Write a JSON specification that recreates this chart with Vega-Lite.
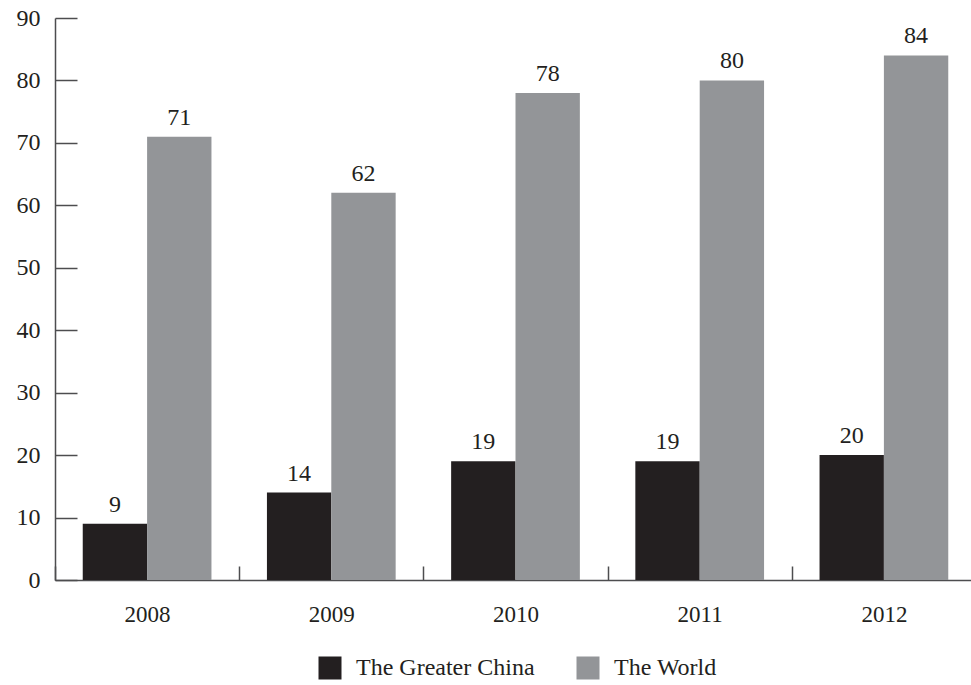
{
  "$schema": "https://vega.github.io/schema/vega-lite/v6.json",
  "autosize": "none",
  "padding": {"left": 55, "top": 18, "right": 0, "bottom": 105},
  "width": 921,
  "height": 562,
  "background": "white",
  "config": {
    "font": "Liberation Serif",
    "view": {"stroke": null},
    "axis": {"grid": false, "domainColor": "#4d4d4f", "domainWidth": 1.5, "tickColor": "#4d4d4f", "tickWidth": 1.5, "labelColor": "#231f20", "labelFont": "Liberation Serif"}
  },
  "data": {
    "values": [
      {"year": "2008", "series": "The Greater China", "value": 9},
      {"year": "2008", "series": "The World", "value": 71},
      {"year": "2009", "series": "The Greater China", "value": 14},
      {"year": "2009", "series": "The World", "value": 62},
      {"year": "2010", "series": "The Greater China", "value": 19},
      {"year": "2010", "series": "The World", "value": 78},
      {"year": "2011", "series": "The Greater China", "value": 19},
      {"year": "2011", "series": "The World", "value": 80},
      {"year": "2012", "series": "The Greater China", "value": 20},
      {"year": "2012", "series": "The World", "value": 84}
    ]
  },
  "encoding": {
    "x": {
      "field": "year",
      "type": "nominal",
      "scale": {"paddingInner": 0, "paddingOuter": 0},
      "axis": {"title": null, "labelAngle": 0, "tickBand": "extent", "tickSize": -14, "labelPadding": 37, "labelFontSize": 23, "labelBaseline": "top"}
    },
    "xOffset": {
      "field": "series",
      "type": "nominal",
      "scale": {"paddingInner": 0, "paddingOuter": 0.431}
    },
    "y": {
      "field": "value",
      "type": "quantitative",
      "scale": {"domain": [0, 90], "nice": false},
      "axis": {"title": null, "values": [0, 10, 20, 30, 40, 50, 60, 70, 80, 90], "tickSize": -22, "labelPadding": 37, "labelFontSize": 24}
    }
  },
  "layer": [
    {
      "mark": {"type": "bar"},
      "encoding": {
        "color": {
          "field": "series",
          "type": "nominal",
          "scale": {"domain": ["The Greater China", "The World"], "range": ["#231f20", "#939598"]},
          "legend": {
            "title": null,
            "orient": "none",
            "direction": "horizontal",
            "legendX": 263,
            "legendY": 638,
            "symbolType": "square",
            "symbolSize": 529,
            "symbolStrokeWidth": 0,
            "labelFontSize": 24,
            "labelLimit": 400,
            "labelFont": "Liberation Serif",
            "labelColor": "#231f20",
            "labelOffset": 14,
            "columnPadding": 41
          }
        }
      }
    },
    {
      "mark": {"type": "text", "baseline": "alphabetic", "dy": -12, "fontSize": 24, "color": "#231f20"},
      "encoding": {
        "text": {"field": "value", "type": "quantitative"}
      }
    }
  ]
}
